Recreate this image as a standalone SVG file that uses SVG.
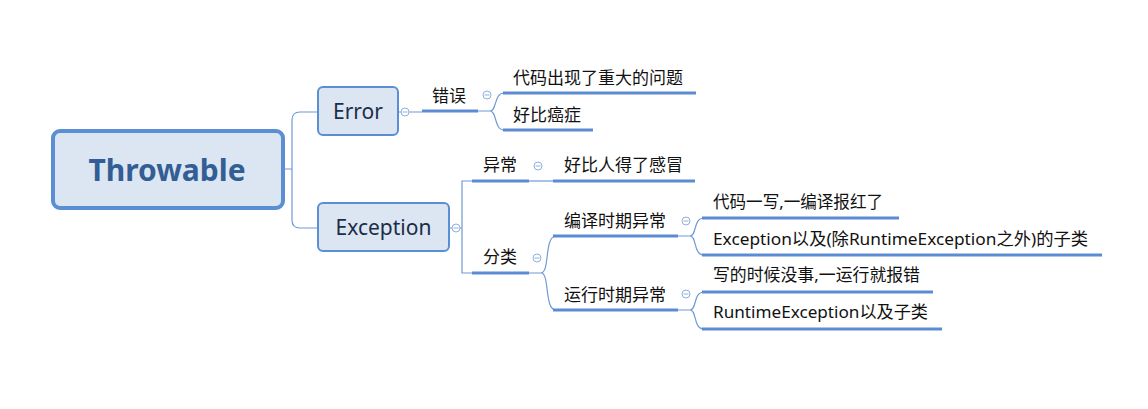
<svg xmlns="http://www.w3.org/2000/svg" width="1148" height="409" viewBox="0 0 1148 409">
<style>
.thin{fill:none;stroke:#6f9ad6;stroke-width:1.2}
.ul{fill:none;stroke:#5b8bd2;stroke-width:3}
.col{fill:#fff;stroke:#8fb0dd;stroke-width:1}
.colm{stroke:#8fb0dd;stroke-width:1}
.t{font-family:"Noto Sans","Noto Sans CJK SC",sans-serif;font-size:17px;fill:#111}
.box{fill:#dce6f3;stroke:#5b8fd4;stroke-width:2}
.bt{font-family:"Noto Sans","Noto Sans CJK SC",sans-serif;font-size:21px;fill:#1b2d48;text-anchor:middle}
</style>
<rect width="1148" height="409" fill="#fff"/>
<g id="connectors">
<path class="thin" d="M284,169 H292 M318,112 H300 Q292,112 292,120 V220 Q292,228 300,228 H318"/>
<path class="thin" d="M398,112 H401 M409,112 H422"/>
<path class="ul" d="M422,111 H478"/>
<path class="thin" d="M478,111 H490 C497,111 494,93 504,93 M490,111 C497,111 494,130 504,130"/>
<path class="ul" d="M503,93 H696 M503,130 H593"/>
<path class="thin" d="M449,228 H452 M460,228 H462 M472,181 H462 V273 H472"/>
<path class="ul" d="M472,181 H529 M472,273 H529"/>
<path class="thin" d="M529,181 H553"/>
<path class="ul" d="M553,181 H695"/>
<path class="thin" d="M529,273 H541 C550,273 544,236 556,236 M541,273 C550,273 544,310 556,310"/>
<path class="ul" d="M553,236 H678 M553,310 H678"/>
<path class="thin" d="M678,236 H690 C697,236 693,218 704,218 M690,236 C697,236 693,255 704,255"/>
<path class="thin" d="M678,310 H690 C697,310 693,292 704,292 M690,310 C697,310 693,329 704,329"/>
<path class="ul" d="M702,218 H899 M702,255 H1102 M702,292 H933 M702,329 H942"/>
</g>
<g id="throwable">
<rect x="53" y="131" width="230" height="77" rx="7" fill="#dce6f3" stroke="#5b8fd4" stroke-width="4"/>
<text x="167" y="181" text-anchor="middle" font-family="'Noto Sans','Noto Sans CJK SC',sans-serif" font-size="30" font-weight="bold" fill="#335e95">Throwable</text>
</g>
<g id="error">
<rect class="box" x="318" y="87" width="80" height="48" rx="5"/>
<text class="bt" x="358" y="119">Error</text>
<circle class="col" cx="405" cy="112" r="4"/><path class="colm" d="M402.5,112 H407.5"/>
</g>
<g id="exception">
<rect class="box" x="318" y="203" width="131" height="48" rx="5"/>
<text class="bt" x="383.5" y="235">Exception</text>
<circle class="col" cx="456" cy="228" r="4"/><path class="colm" d="M453.5,228 H458.5"/>
</g>
<g id="cuowu">
<text class="t" x="432" y="102">错误</text>
<circle class="col" cx="487" cy="95" r="4"/><path class="colm" d="M484.5,95 H489.5"/>
</g>
<g id="leaf1"><text class="t" x="513" y="84">代码出现了重大的问题</text></g>
<g id="leaf2"><text class="t" x="513" y="121">好比癌症</text></g>
<g id="yichang">
<text class="t" x="483" y="171">异常</text>
<circle class="col" cx="538" cy="166" r="4"/><path class="colm" d="M535.5,166 H540.5"/>
</g>
<g id="leaf3"><text class="t" x="564" y="171">好比人得了感冒</text></g>
<g id="fenlei">
<text class="t" x="483" y="263">分类</text>
<circle class="col" cx="537" cy="258" r="4"/><path class="colm" d="M534.5,258 H539.5"/>
</g>
<g id="bianyi">
<text class="t" x="564" y="227">编译时期异常</text>
<circle class="col" cx="686" cy="221" r="4"/><path class="colm" d="M683.5,221 H688.5"/>
</g>
<g id="yunxing">
<text class="t" x="564" y="301">运行时期异常</text>
<circle class="col" cx="686" cy="294" r="4"/><path class="colm" d="M683.5,294 H688.5"/>
</g>
<g id="leaf4"><text class="t" x="713" y="208" textLength="170" lengthAdjust="spacingAndGlyphs">代码一写,一编译报红了</text></g>
<g id="leaf5"><text class="t" x="713" y="245" textLength="375" lengthAdjust="spacingAndGlyphs">Exception以及(除RuntimeException之外)的子类</text></g>
<g id="leaf6"><text class="t" x="713" y="281" textLength="207" lengthAdjust="spacingAndGlyphs">写的时候没事,一运行就报错</text></g>
<g id="leaf7"><text class="t" x="713" y="318" textLength="215" lengthAdjust="spacingAndGlyphs">RuntimeException以及子类</text></g>
</svg>
